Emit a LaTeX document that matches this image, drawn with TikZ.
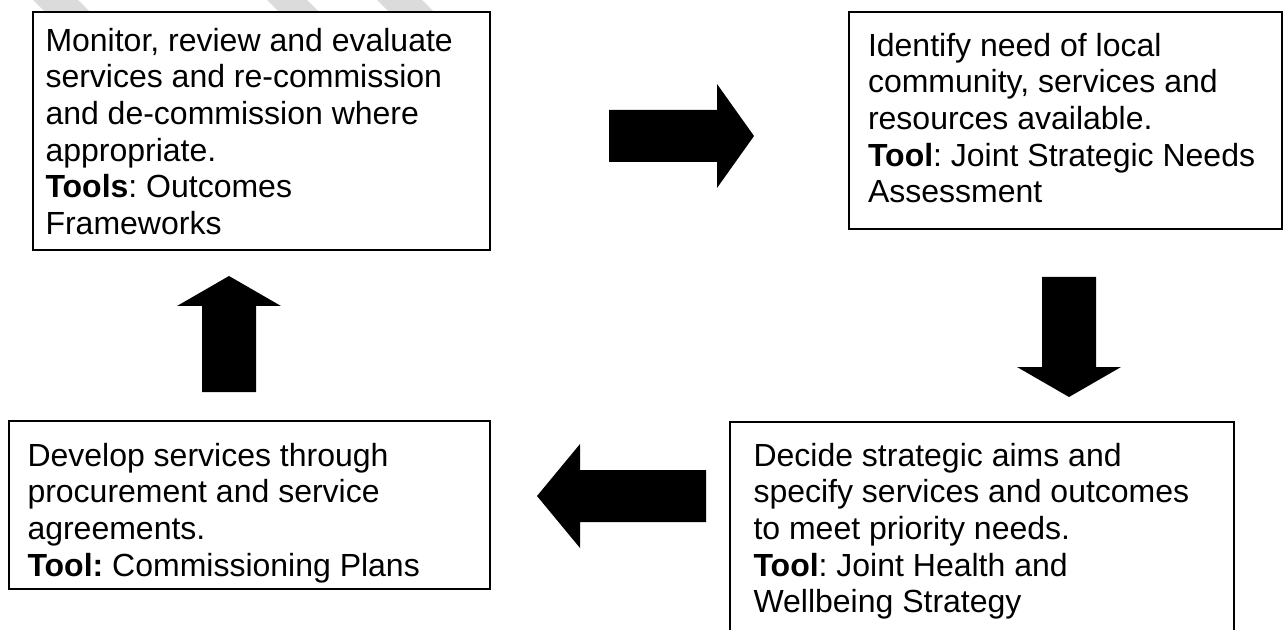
\documentclass[tikz,border=0pt]{standalone}
\usepackage{fontspec}
\setmainfont{Liberation Sans}
\usepackage{tikz}
\usetikzlibrary{positioning}
\frenchspacing

\tikzset{
    stage/.style={draw, line width=1pt, anchor=north west, outer sep=0pt, inner sep=0pt},
    stagetext/.style={anchor=north west, align=left, inner sep=0pt, outer sep=0pt,
        font=\fontsize{16pt}{18.35pt}\selectfont},
}

\begin{document}
\begin{tikzpicture}[x=0.5pt, y=-0.5pt]
            \useasboundingbox (0, 0) rectangle (1288, 630);
            \clip (0, 0) rectangle (1288, 630);
            % faint grey bands along the top edge
            \fill[black!14] (33, 0) -- (78, 0) -- (91, 13) -- (46, 13) -- cycle;
            \fill[black!14] (267, 0) -- (307, 0) -- (320, 13) -- (280, 13) -- cycle;
            \fill[black!14] (377, 0) -- (422, 0) -- (435, 13) -- (390, 13) -- cycle;
            % the four stages
            \node[stage, minimum width=228.5pt, minimum height=119pt] (monitor) at (33, 12) {};
            \node[stage, minimum width=216.5pt, minimum height=108.5pt] (identify) at (849, 12) {};
            \node[stage, minimum width=252pt, minimum height=116pt] (decide) at (730, 422) {};
            \node[stage, minimum width=240.5pt, minimum height=84pt] (develop) at (9, 421) {};
            \node[stagetext, below right=8pt and 6.25pt of monitor.north west] (monitortext)
                {Monitor, review and evaluate\\services and re-commission\\and de-commission where\\appropriate.\\\textbf{Tools}: Outcomes\\Frameworks};
            \node[stagetext, below right=10.5pt and 9.5pt of identify.north west] (identifytext)
                {Identify need of local\\community, services and\\resources available.\\\textbf{Tool}: Joint Strategic Needs\\Assessment};
            \node[stagetext, below right=10.5pt and 11.75pt of decide.north west] (decidetext)
                {Decide strategic aims and\\specify services and outcomes\\to meet priority needs.\\\textbf{Tool}: Joint Health and\\Wellbeing Strategy};
            \node[stagetext, below right=11pt and 9.25pt of develop.north west] (developtext)
                {Develop services through\\procurement and service\\agreements.\\\textbf{Tool:} Commissioning Plans};
            % block arrows round the cycle
            \fill (609, 110) -- (717, 110) -- (717, 84) -- (754, 136) -- (717, 188) -- (717, 162) -- (609, 162) -- cycle;
            \fill (1042, 277) -- (1096, 277) -- (1096, 367) -- (1121, 367) -- (1069, 397) -- (1017, 367) -- (1042, 367) -- cycle;
            \fill (706, 470) -- (580, 470) -- (580, 444) -- (537, 496) -- (580, 548) -- (580, 522) -- (706, 522) -- cycle;
            \fill (202, 392) -- (202, 306) -- (177, 306) -- (229, 276) -- (281, 306) -- (256, 306) -- (256, 392) -- cycle;
    \end{tikzpicture}
\end{document}
